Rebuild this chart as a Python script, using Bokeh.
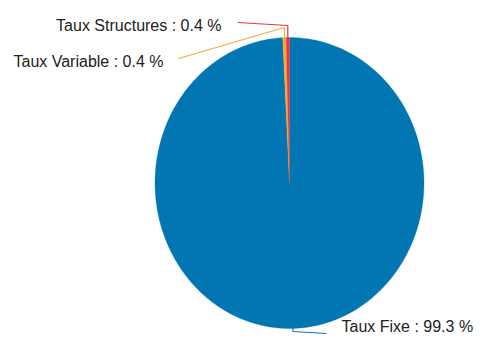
import math
from bokeh.plotting import figure
from bokeh.models import Range1d, ColumnDataSource
from bokeh.core.properties import value
from bokeh.embed import file_html
from bokeh.resources import INLINE

# ---- data ----
labels = ["Taux Fixe", "Taux Variable", "Taux Structures"]
values = [99.3, 0.4, 0.4]
colors = ["#0176b3", "#f7a93b", "#e8373d"]

# ---- layout (figure pixel space, y downward) ----
W, H = 476, 338
cx, cy = 289.0, 182.5
rx, ry = 134.5, 145.5

p = figure(width=W, height=H, x_range=Range1d(0, W), y_range=Range1d(H, 0),
           output_backend="svg", toolbar_location=None, min_border=0)
p.axis.visible = False
p.grid.visible = False
p.outline_line_color = None
p.background_fill_color = "white"
p.border_fill_color = "white"

total = sum(values)
xs, ys, mids = [], [], []
cum = 0.0
for v in values:
    a0 = 2 * math.pi * cum / total
    a1 = 2 * math.pi * (cum + v) / total
    n = max(4, int(400 * v / total))
    px = [cx]
    py = [cy]
    for i in range(n + 1):
        t = a0 + (a1 - a0) * i / n
        px.append(cx + rx * math.sin(t))
        py.append(cy - ry * math.cos(t))
    xs.append(px)
    ys.append(py)
    mids.append((a0 + a1) / 2)
    cum += v

src = ColumnDataSource(dict(xs=xs, ys=ys, color=colors))
p.patches("xs", "ys", source=src, fill_color="color", line_color="color", line_width=0.3)

# leader lines and labels: (elbow y, end x, end y, text x, text y, align)
label_cfg = [
    (331, 326, 333, 341, 326, "left"),
    (27, 178, 58, 163, 60.5, "right"),
    (25, 237, 22, 221, 25, "right"),
]
lx, ly, tx, ty, tt, ta = [], [], [], [], [], []
for (lab, v, m, cfg) in zip(labels, values, mids, label_cfg):
    ey, ex2, ey2, txx, tyy, al = cfg
    sx = cx + rx * math.sin(m)
    sy = cy - ry * math.cos(m)
    lx.append([sx, sx, ex2])
    ly.append([sy + (-2 if sy > cy else 2), ey, ey2])
    tx.append(txx)
    ty.append(tyy)
    tt.append(f"{lab} : {v} %")
    ta.append(al)

p.multi_line(lx, ly, line_color=colors, line_width=1.2)
tsrc = ColumnDataSource(dict(x=tx, y=ty, t=tt, a=ta))
p.text("x", "y", text="t", source=tsrc, text_align="a", text_baseline="middle",
       text_font=value("Liberation Sans"), text_font_size="16px", text_color="#222222")

open("out.html", "w").write(file_html(p, INLINE))
